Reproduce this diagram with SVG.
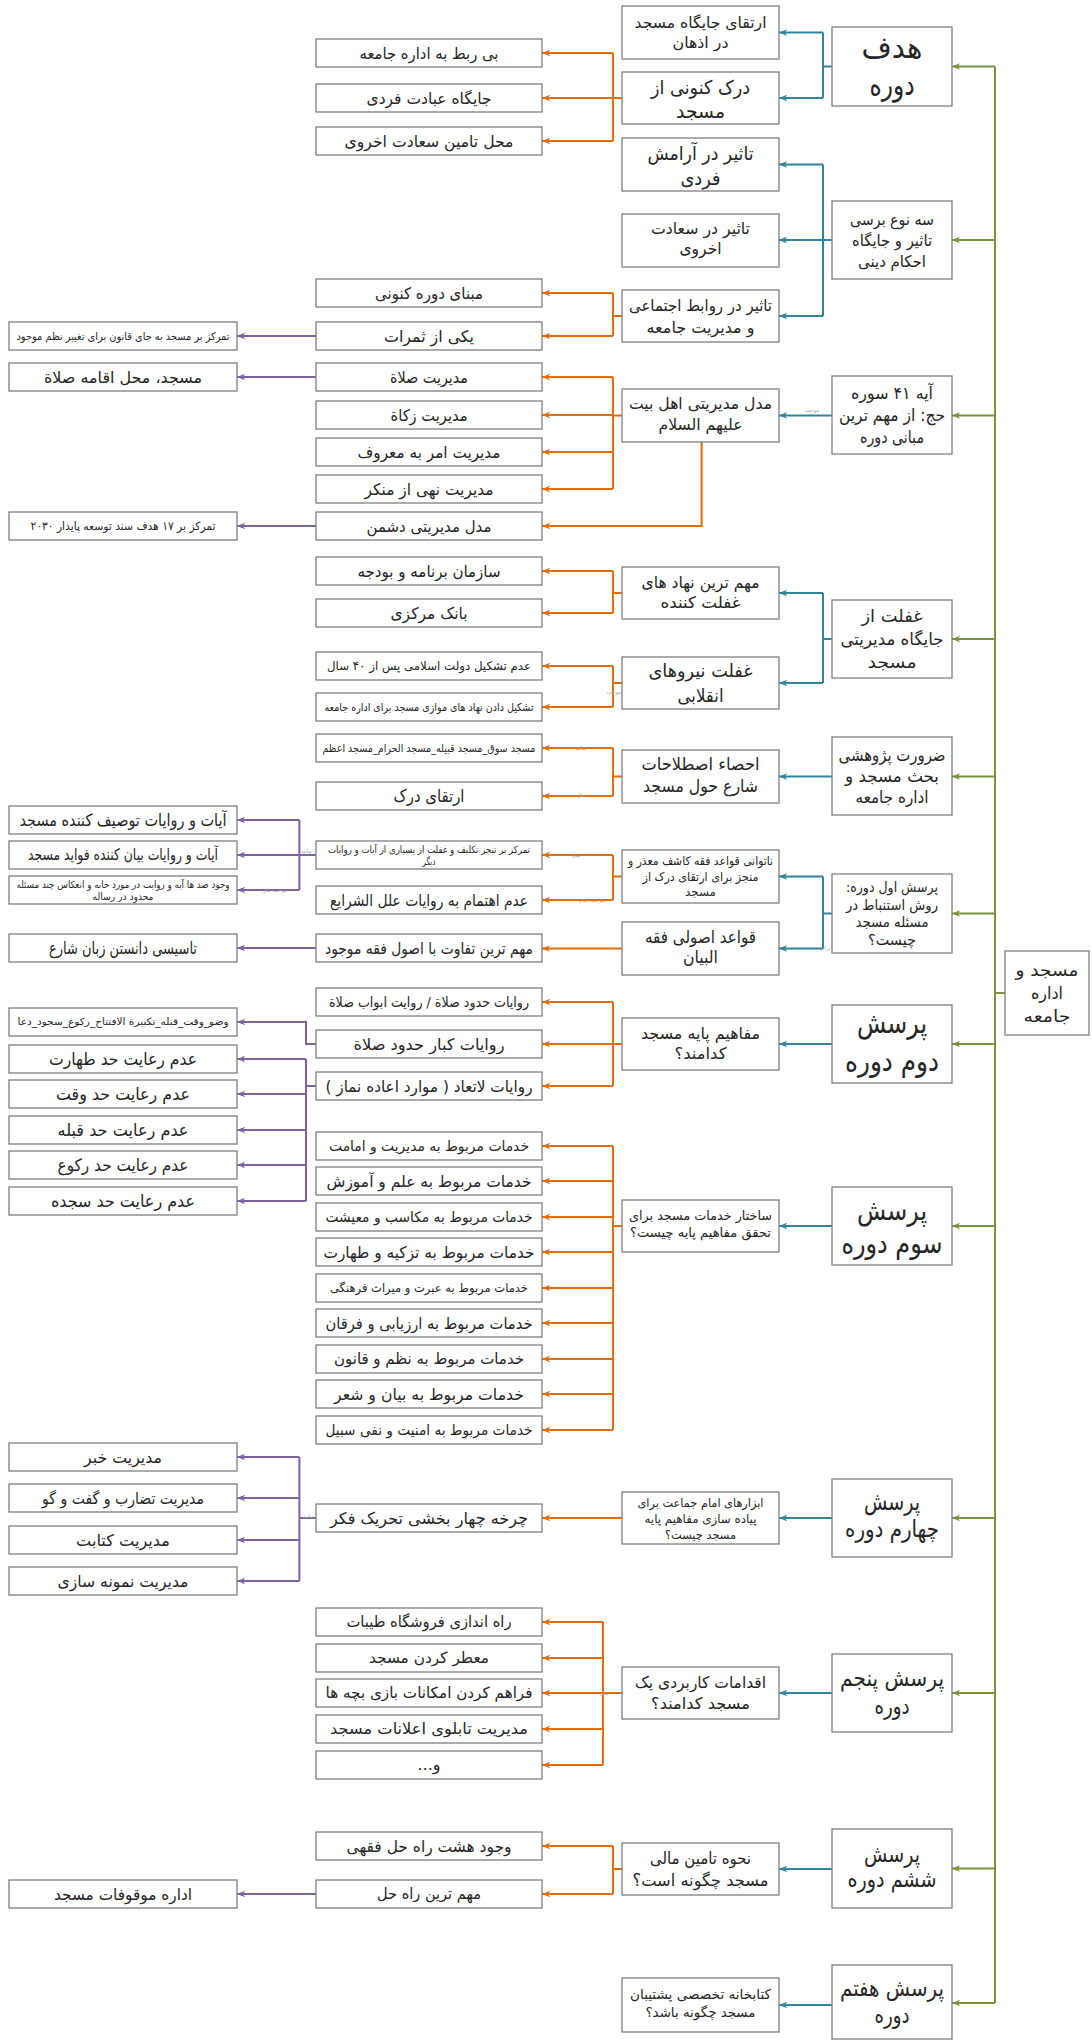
<svg xmlns="http://www.w3.org/2000/svg" width="1092" height="2040" viewBox="0 0 1092 2040">
<style>
.box{fill:#fff;stroke:#7f7f7f;stroke-width:1.3}
text{font-family:"DejaVu Sans",sans-serif;fill:#262626;text-anchor:middle;direction:rtl}
text.lbl{fill:#a6a6a6;font-size:5.5px}
.g{stroke:#77933C;stroke-width:2;fill:none}
.t{stroke:#31849B;stroke-width:2;fill:none}
.o{stroke:#E46C0A;stroke-width:2;fill:none}
.p{stroke:#7F63A1;stroke-width:2;fill:none}
</style>
<defs>
<marker id="mg" viewBox="0 0 10 10" refX="10" refY="5" markerWidth="9" markerHeight="8" markerUnits="userSpaceOnUse" orient="auto"><path d="M0,1 L10,5 L0,9 L2.5,5 z" fill="#77933C"/></marker>
<marker id="mt" viewBox="0 0 10 10" refX="10" refY="5" markerWidth="9" markerHeight="8" markerUnits="userSpaceOnUse" orient="auto"><path d="M0,1 L10,5 L0,9 L2.5,5 z" fill="#31849B"/></marker>
<marker id="mo" viewBox="0 0 10 10" refX="10" refY="5" markerWidth="9" markerHeight="8" markerUnits="userSpaceOnUse" orient="auto"><path d="M0,1 L10,5 L0,9 L2.5,5 z" fill="#E46C0A"/></marker>
<marker id="mp" viewBox="0 0 10 10" refX="10" refY="5" markerWidth="9" markerHeight="8" markerUnits="userSpaceOnUse" orient="auto"><path d="M0,1 L10,5 L0,9 L2.5,5 z" fill="#7F63A1"/></marker>
</defs>
<rect width="1092" height="2040" fill="#fff"/>
<g id="connectors">
<path class="g" d="M995,66.5 V2003 M995,993 H1005"/>
<g marker-end="url(#mg)">
<path class="g" d="M995,66.5 H952"/><path class="g" d="M995,240 H952"/><path class="g" d="M995,415.5 H952"/><path class="g" d="M995,639 H952"/><path class="g" d="M995,776.5 H952"/><path class="g" d="M995,913.5 H952"/><path class="g" d="M995,1044 H952"/><path class="g" d="M995,1226 H952"/><path class="g" d="M995,1518 H952"/><path class="g" d="M995,1693 H952"/><path class="g" d="M995,1868.5 H952"/><path class="g" d="M995,2003 H952"/>
</g>
<path class="t" d="M832,66.5 H823 M823,32.5 V98 M832,240 H823 M823,164.5 V316 M832,639 H823 M823,593 V683 M832,913.5 H823 M823,876.5 V948.5"/>
<g marker-end="url(#mt)">
<path class="t" d="M823,32.5 H779"/><path class="t" d="M823,98 H779"/><path class="t" d="M823,164.5 H779"/><path class="t" d="M823,240 H779"/><path class="t" d="M823,316 H779"/><path class="t" d="M832,415.5 H779"/><path class="t" d="M823,593 H779"/><path class="t" d="M823,683 H779"/><path class="t" d="M832,776.5 H779"/><path class="t" d="M823,876.5 H779"/><path class="t" d="M823,948.5 H779"/><path class="t" d="M832,1044 H779"/><path class="t" d="M832,1226 H779"/><path class="t" d="M832,1518 H779"/><path class="t" d="M832,1693 H779"/><path class="t" d="M832,1869 H779"/><path class="t" d="M832,2005 H779"/>
</g>
<path class="o" d="M622,98 H613 M613,53 V141 M622,316 H613 M613,293 V336 M622,415.5 H613 M613,377 V489 M622,593 H613 M613,571 V613 M622,683 H613 M613,666 V707 M622,776.5 H613 M613,748 V796 M622,876.5 H613 M613,855 V900 M622,1044 H613 M613,1002 V1086 M622,1226 H613 M613,1146 V1430 M622,1693 H603 M603,1622 V1765 M622,1869 H613 M613,1846 V1894"/>
<g marker-end="url(#mo)">
<path class="o" d="M613,53 H542"/><path class="o" d="M613,98 H542"/><path class="o" d="M613,141 H542"/>
<path class="o" d="M613,293 H542"/><path class="o" d="M613,336 H542"/>
<path class="o" d="M613,377 H542"/><path class="o" d="M613,415 H542"/><path class="o" d="M613,452 H542"/><path class="o" d="M613,489 H542"/>
<path class="o" d="M701.6,442 V526 H542"/>
<path class="o" d="M613,571 H542"/><path class="o" d="M613,613 H542"/>
<path class="o" d="M613,666 H542"/><path class="o" d="M613,707 H542"/>
<path class="o" d="M613,748 H542"/><path class="o" d="M613,796 H542"/>
<path class="o" d="M613,855 H542"/><path class="o" d="M613,900 H542"/>
<path class="o" d="M622,948.5 H542"/>
<path class="o" d="M613,1002 H542"/><path class="o" d="M613,1044 H542"/><path class="o" d="M613,1086 H542"/>
<path class="o" d="M613,1146 H542"/><path class="o" d="M613,1181 H542"/><path class="o" d="M613,1217 H542"/><path class="o" d="M613,1252 H542"/><path class="o" d="M613,1288 H542"/><path class="o" d="M613,1323 H542"/><path class="o" d="M613,1359 H542"/><path class="o" d="M613,1394 H542"/><path class="o" d="M613,1430 H542"/>
<path class="o" d="M622,1518 H542"/>
<path class="o" d="M603,1622 H542"/><path class="o" d="M603,1658 H542"/><path class="o" d="M603,1693 H542"/><path class="o" d="M603,1729 H542"/><path class="o" d="M603,1765 H542"/>
<path class="o" d="M613,1846 H542"/><path class="o" d="M613,1894 H542"/>
</g>
<path class="p" d="M316,855 H299.4 M299.4,820 V890 M316,1086 H306 M306,1059 V1201 M316,1518 H299.4 M299.4,1457 V1581"/>
<g marker-end="url(#mp)">
<path class="p" d="M316,336 H237"/><path class="p" d="M316,377 H237"/><path class="p" d="M316,526 H237"/>
<path class="p" d="M299.4,820 H237"/><path class="p" d="M299.4,855 H237"/><path class="p" d="M299.4,890 H237"/>
<path class="p" d="M316,948 H237"/>
<path class="p" d="M316,1044 H306 V1022 H237"/>
<path class="p" d="M306,1059 H237"/><path class="p" d="M306,1094 H237"/><path class="p" d="M306,1130 H237"/><path class="p" d="M306,1165 H237"/><path class="p" d="M306,1201 H237"/>
<path class="p" d="M299.4,1457 H237"/><path class="p" d="M299.4,1498 H237"/><path class="p" d="M299.4,1540 H237"/><path class="p" d="M299.4,1581 H237"/>
<path class="p" d="M316,1894 H237"/>
</g>
<g id="connector-labels">
<text class="lbl" x="812" y="412">موجب</text>
<text class="lbl" x="614" y="694">موجب</text>
<text class="lbl" x="580" y="750">مانند</text>
<text class="lbl" x="581" y="797">مثل</text>
<text class="lbl" x="576" y="857">مثل</text>
<text class="lbl" x="592" y="902">موجب عدم</text>
<text class="lbl" x="825" y="950">برابر</text>
<text class="lbl" x="306" y="853">مانند</text>
<text class="lbl" x="275" y="892">موجب نیاز</text>
<text class="lbl" x="308" y="1518">مانند</text>
<text class="lbl" x="604" y="1695">مثل</text>
</g>
</g>
<g id="root"><rect class="box" x="1005" y="951" width="84" height="84"/><text x="1047" y="976" font-size="17" textLength="63" lengthAdjust="spacingAndGlyphs">مسجد و</text><text x="1047" y="999" font-size="17" textLength="32" lengthAdjust="spacingAndGlyphs">اداره</text><text x="1047" y="1022" font-size="17" textLength="47" lengthAdjust="spacingAndGlyphs">جامعه</text></g>
<g id="a1"><rect class="box" x="832" y="27" width="120" height="79"/><text x="892" y="58" font-size="30" textLength="61" lengthAdjust="spacingAndGlyphs">هدف</text><text x="892" y="95" font-size="30" textLength="45" lengthAdjust="spacingAndGlyphs">دوره</text></g>
<g id="a2"><rect class="box" x="832" y="201" width="120" height="78"/><text x="892" y="224.6" font-size="16" textLength="84" lengthAdjust="spacingAndGlyphs">سه نوع برسی</text><text x="892" y="245.6" font-size="16" textLength="80" lengthAdjust="spacingAndGlyphs">تاثیر و جایگاه</text><text x="892" y="266.6" font-size="16" textLength="68" lengthAdjust="spacingAndGlyphs">احکام دینی</text></g>
<g id="a3"><rect class="box" x="832" y="376" width="120" height="78"/><text x="892" y="399" font-size="17" textLength="82" lengthAdjust="spacingAndGlyphs">آیه ۴۱ سوره</text><text x="892" y="421" font-size="17" textLength="106" lengthAdjust="spacingAndGlyphs">حج: از مهم ترین</text><text x="892" y="443" font-size="17" textLength="64" lengthAdjust="spacingAndGlyphs">مبانی دوره</text></g>
<g id="a4"><rect class="box" x="832" y="600" width="120" height="78"/><text x="892" y="622" font-size="17" textLength="61" lengthAdjust="spacingAndGlyphs">غفلت از</text><text x="892" y="645" font-size="17" textLength="103" lengthAdjust="spacingAndGlyphs">جایگاه مدیریتی</text><text x="892" y="668" font-size="17" textLength="49" lengthAdjust="spacingAndGlyphs">مسجد</text></g>
<g id="a5"><rect class="box" x="832" y="737" width="120" height="78"/><text x="892" y="761" font-size="17" textLength="107" lengthAdjust="spacingAndGlyphs">ضرورت پژوهشی</text><text x="892" y="782" font-size="17" textLength="94" lengthAdjust="spacingAndGlyphs">بحث مسجد و</text><text x="892" y="803" font-size="17" textLength="73" lengthAdjust="spacingAndGlyphs">اداره جامعه</text></g>
<g id="a6"><rect class="box" x="832" y="874" width="120" height="79"/><text x="892" y="892" font-size="14.5" textLength="92" lengthAdjust="spacingAndGlyphs">پرسش اول دوره:</text><text x="892" y="909.5" font-size="14.5" textLength="92" lengthAdjust="spacingAndGlyphs">روش استنباط در</text><text x="892" y="927" font-size="14.5" textLength="73" lengthAdjust="spacingAndGlyphs">مسئله مسجد</text><text x="892" y="944.5" font-size="14.5" textLength="48" lengthAdjust="spacingAndGlyphs">چیست؟</text></g>
<g id="a7"><rect class="box" x="832" y="1005" width="120" height="78"/><text x="892" y="1033" font-size="29" textLength="70" lengthAdjust="spacingAndGlyphs">پرسش</text><text x="892" y="1071" font-size="29" textLength="94" lengthAdjust="spacingAndGlyphs">دوم دوره</text></g>
<g id="a8"><rect class="box" x="832" y="1187" width="120" height="78"/><text x="892" y="1220" font-size="28" textLength="70" lengthAdjust="spacingAndGlyphs">پرسش</text><text x="892" y="1253" font-size="28" textLength="101" lengthAdjust="spacingAndGlyphs">سوم دوره</text></g>
<g id="a9"><rect class="box" x="832" y="1479" width="120" height="78"/><text x="892" y="1510" font-size="24" textLength="56" lengthAdjust="spacingAndGlyphs">پرسش</text><text x="892" y="1537" font-size="24" textLength="94" lengthAdjust="spacingAndGlyphs">چهارم دوره</text></g>
<g id="a10"><rect class="box" x="832" y="1654" width="120" height="78"/><text x="892" y="1686" font-size="23" textLength="104" lengthAdjust="spacingAndGlyphs">پرسش پنجم</text><text x="892" y="1714" font-size="23" textLength="35" lengthAdjust="spacingAndGlyphs">دوره</text></g>
<g id="a11"><rect class="box" x="832" y="1829" width="120" height="79"/><text x="892" y="1862" font-size="23" textLength="56" lengthAdjust="spacingAndGlyphs">پرسش</text><text x="892" y="1887" font-size="23" textLength="89" lengthAdjust="spacingAndGlyphs">ششم دوره</text></g>
<g id="a12"><rect class="box" x="832" y="1965" width="120" height="74"/><text x="892" y="1996" font-size="23" textLength="104" lengthAdjust="spacingAndGlyphs">پرسش هفتم</text><text x="892" y="2023" font-size="23" textLength="35" lengthAdjust="spacingAndGlyphs">دوره</text></g>
<g id="b1"><rect class="box" x="622" y="6" width="157" height="53"/><text x="700.5" y="28" font-size="15.5" textLength="132" lengthAdjust="spacingAndGlyphs">ارتقای جایگاه مسجد</text><text x="700.5" y="48" font-size="15.5" textLength="56" lengthAdjust="spacingAndGlyphs">در اذهان</text></g>
<g id="b2"><rect class="box" x="622" y="72" width="157" height="52"/><text x="700.5" y="94" font-size="19" textLength="99" lengthAdjust="spacingAndGlyphs">درک کنونی از</text><text x="700.5" y="118" font-size="19" textLength="49" lengthAdjust="spacingAndGlyphs">مسجد</text></g>
<g id="b3"><rect class="box" x="622" y="138" width="157" height="53"/><text x="700.5" y="160" font-size="19" textLength="106" lengthAdjust="spacingAndGlyphs">تاثیر در آرامش</text><text x="700.5" y="185" font-size="19" textLength="40" lengthAdjust="spacingAndGlyphs">فردی</text></g>
<g id="b4"><rect class="box" x="622" y="214" width="157" height="53"/><text x="700.5" y="234" font-size="16" textLength="99" lengthAdjust="spacingAndGlyphs">تاثیر در سعادت</text><text x="700.5" y="254" font-size="16" textLength="42" lengthAdjust="spacingAndGlyphs">اخروی</text></g>
<g id="b5"><rect class="box" x="622" y="290" width="157" height="52"/><text x="700.5" y="311" font-size="16" textLength="143" lengthAdjust="spacingAndGlyphs">تاثیر در روابط اجتماعی</text><text x="700.5" y="333" font-size="16" textLength="108" lengthAdjust="spacingAndGlyphs">و مدیریت جامعه</text></g>
<g id="b6"><rect class="box" x="622" y="389" width="157" height="53"/><text x="700.5" y="409" font-size="16" textLength="143" lengthAdjust="spacingAndGlyphs">مدل مدیریتی اهل بیت</text><text x="700.5" y="430" font-size="16" textLength="84" lengthAdjust="spacingAndGlyphs">علیهم السلام</text></g>
<g id="b7"><rect class="box" x="622" y="567" width="157" height="52"/><text x="700.5" y="588" font-size="16" textLength="118" lengthAdjust="spacingAndGlyphs">مهم ترین نهاد های</text><text x="700.5" y="608" font-size="16" textLength="80" lengthAdjust="spacingAndGlyphs">غفلت کننده</text></g>
<g id="b8"><rect class="box" x="622" y="657" width="157" height="52"/><text x="700.5" y="676.5" font-size="18" textLength="104" lengthAdjust="spacingAndGlyphs">غفلت نیروهای</text><text x="700.5" y="701.5" font-size="18" textLength="46" lengthAdjust="spacingAndGlyphs">انقلابی</text></g>
<g id="b9"><rect class="box" x="622" y="750" width="157" height="53"/><text x="700.5" y="770" font-size="17.5" textLength="118" lengthAdjust="spacingAndGlyphs">احصاء اصطلاحات</text><text x="700.5" y="792" font-size="17.5" textLength="115" lengthAdjust="spacingAndGlyphs">شارع حول مسجد</text></g>
<g id="b10"><rect class="box" x="622" y="850" width="157" height="53"/><text x="700.5" y="865" font-size="12" textLength="145" lengthAdjust="spacingAndGlyphs">ناتوانی قواعد فقه کاشف معذر و</text><text x="700.5" y="881" font-size="12" textLength="116" lengthAdjust="spacingAndGlyphs">منجز برای ارتقای درک از</text><text x="700.5" y="896" font-size="12" textLength="31" lengthAdjust="spacingAndGlyphs">مسجد</text></g>
<g id="b11"><rect class="box" x="622" y="922" width="157" height="53"/><text x="700.5" y="943" font-size="17.5" textLength="111" lengthAdjust="spacingAndGlyphs">قواعد اصولی فقه</text><text x="700.5" y="963" font-size="17.5" textLength="35" lengthAdjust="spacingAndGlyphs">البیان</text></g>
<g id="b12"><rect class="box" x="622" y="1018" width="157" height="52"/><text x="700.5" y="1039" font-size="16" textLength="119" lengthAdjust="spacingAndGlyphs">مفاهیم پایه مسجد</text><text x="700.5" y="1059" font-size="16" textLength="52" lengthAdjust="spacingAndGlyphs">کدامند؟</text></g>
<g id="b13"><rect class="box" x="622" y="1200" width="157" height="52"/><text x="700.5" y="1220" font-size="13" textLength="143" lengthAdjust="spacingAndGlyphs">ساختار خدمات مسجد برای</text><text x="700.5" y="1237" font-size="13" textLength="141" lengthAdjust="spacingAndGlyphs">تحقق مفاهیم پایه چیست؟</text></g>
<g id="b14"><rect class="box" x="622" y="1492" width="157" height="52"/><text x="700.5" y="1507" font-size="12" textLength="126" lengthAdjust="spacingAndGlyphs">ابزارهای امام جماعت برای</text><text x="700.5" y="1523" font-size="12" textLength="112" lengthAdjust="spacingAndGlyphs">پیاده سازی مفاهیم پایه</text><text x="700.5" y="1539" font-size="12" textLength="71" lengthAdjust="spacingAndGlyphs">مسجد چیست؟</text></g>
<g id="b15"><rect class="box" x="622" y="1667" width="157" height="52"/><text x="700.5" y="1688" font-size="16" textLength="131" lengthAdjust="spacingAndGlyphs">اقدامات کاربردی یک</text><text x="700.5" y="1709" font-size="16" textLength="99" lengthAdjust="spacingAndGlyphs">مسجد کدامند؟</text></g>
<g id="b16"><rect class="box" x="622" y="1843" width="157" height="52"/><text x="700.5" y="1863.5" font-size="16.5" textLength="101" lengthAdjust="spacingAndGlyphs">نحوه تامین مالی</text><text x="700.5" y="1885.5" font-size="16.5" textLength="136" lengthAdjust="spacingAndGlyphs">مسجد چگونه است؟</text></g>
<g id="b17"><rect class="box" x="622" y="1978" width="157" height="54"/><text x="700.5" y="1999" font-size="13.5" textLength="141" lengthAdjust="spacingAndGlyphs">کتابخانه تخصصی پشتیبان</text><text x="700.5" y="2017" font-size="13.5" textLength="110" lengthAdjust="spacingAndGlyphs">مسجد چگونه باشد؟</text></g>
<g id="c1"><rect class="box" x="316" y="39" width="226" height="28"/><text x="429" y="58.6" font-size="16" textLength="139" lengthAdjust="spacingAndGlyphs">بی ربط به اداره جامعه</text></g>
<g id="c2"><rect class="box" x="316" y="84" width="226" height="28"/><text x="429" y="103.6" font-size="16" textLength="125" lengthAdjust="spacingAndGlyphs">جایگاه عبادت فردی</text></g>
<g id="c3"><rect class="box" x="316" y="127" width="226" height="28"/><text x="429" y="146.6" font-size="16" textLength="169" lengthAdjust="spacingAndGlyphs">محل تامین سعادت اخروی</text></g>
<g id="c4"><rect class="box" x="316" y="279" width="226" height="28"/><text x="429" y="298.6" font-size="16" textLength="108" lengthAdjust="spacingAndGlyphs">مبنای دوره کنونی</text></g>
<g id="c5"><rect class="box" x="316" y="322" width="226" height="28"/><text x="429" y="341.6" font-size="16" textLength="90" lengthAdjust="spacingAndGlyphs">یکی از ثمرات</text></g>
<g id="c6"><rect class="box" x="316" y="363" width="226" height="28"/><text x="429" y="382.6" font-size="16" textLength="78" lengthAdjust="spacingAndGlyphs">مدیریت صلاة</text></g>
<g id="c7"><rect class="box" x="316" y="401" width="226" height="28"/><text x="429" y="420.6" font-size="16" textLength="77" lengthAdjust="spacingAndGlyphs">مدیریت زکاة</text></g>
<g id="c8"><rect class="box" x="316" y="438" width="226" height="28"/><text x="429" y="457.6" font-size="16" textLength="143" lengthAdjust="spacingAndGlyphs">مدیریت امر به معروف</text></g>
<g id="c9"><rect class="box" x="316" y="475" width="226" height="28"/><text x="429" y="494.6" font-size="16" textLength="129" lengthAdjust="spacingAndGlyphs">مدیریت نهی از منکر</text></g>
<g id="c10"><rect class="box" x="316" y="512" width="226" height="28"/><text x="429" y="531.6" font-size="16" textLength="125" lengthAdjust="spacingAndGlyphs">مدل مدیریتی دشمن</text></g>
<g id="c11"><rect class="box" x="316" y="557" width="226" height="28"/><text x="429" y="576.6" font-size="16" textLength="143" lengthAdjust="spacingAndGlyphs">سازمان برنامه و بودجه</text></g>
<g id="c12"><rect class="box" x="316" y="599" width="226" height="28"/><text x="429" y="618.6" font-size="16" textLength="77" lengthAdjust="spacingAndGlyphs">بانک مرکزی</text></g>
<g id="c13"><rect class="box" x="316" y="652" width="226" height="28"/><text x="429" y="670" font-size="12" textLength="204" lengthAdjust="spacingAndGlyphs">عدم تشکیل دولت اسلامی پس از ۴۰ سال</text></g>
<g id="c14"><rect class="box" x="316" y="693" width="226" height="28"/><text x="429" y="710.7" font-size="11" textLength="209" lengthAdjust="spacingAndGlyphs">تشکیل دادن نهاد های موازی مسجد برای اداره جامعه</text></g>
<g id="c15"><rect class="box" x="316" y="734" width="226" height="28"/><text x="429" y="751.7" font-size="11" textLength="213" lengthAdjust="spacingAndGlyphs">مسجد سوق_مسجد قبیله_مسجد الحرام_مسجد اعظم</text></g>
<g id="c16"><rect class="box" x="316" y="782" width="226" height="28"/><text x="429" y="802" font-size="17" textLength="71" lengthAdjust="spacingAndGlyphs">ارتقای درک</text></g>
<g id="c17"><rect class="box" x="316" y="841" width="226" height="28"/><text x="429" y="853" font-size="10" textLength="202" lengthAdjust="spacingAndGlyphs">تمرکز بر تنجز تکلیف و غفلت از بسیاری از آیات و روایات</text><text x="429" y="865" font-size="10" textLength="13" lengthAdjust="spacingAndGlyphs">دیگر</text></g>
<g id="c18"><rect class="box" x="316" y="886" width="226" height="28"/><text x="429" y="905.6" font-size="16" textLength="198" lengthAdjust="spacingAndGlyphs">عدم اهتمام به روایات علل الشرایع</text></g>
<g id="c19"><rect class="box" x="316" y="934" width="226" height="28"/><text x="429" y="953.6" font-size="16" textLength="208" lengthAdjust="spacingAndGlyphs">مهم ترین تفاوت با اصول فقه موجود</text></g>
<g id="c20"><rect class="box" x="316" y="988" width="226" height="28"/><text x="429" y="1006.5" font-size="14" textLength="200" lengthAdjust="spacingAndGlyphs">روایات حدود صلاة / روایت ابواب صلاة</text></g>
<g id="c21"><rect class="box" x="316" y="1030" width="226" height="28"/><text x="429" y="1049.6" font-size="16" textLength="151" lengthAdjust="spacingAndGlyphs">روایات کبار حدود صلاة</text></g>
<g id="c22"><rect class="box" x="316" y="1072" width="226" height="28"/><text x="429" y="1091.6" font-size="16" textLength="207" lengthAdjust="spacingAndGlyphs">روایات لاتعاد ( موارد اعاده نماز )</text></g>
<g id="c23"><rect class="box" x="316" y="1132" width="226" height="28"/><text x="429" y="1150.8" font-size="14" textLength="200" lengthAdjust="spacingAndGlyphs">خدمات مربوط به مدیریت و امامت</text></g>
<g id="c24"><rect class="box" x="316" y="1167" width="226" height="28"/><text x="429" y="1186.6" font-size="16" textLength="205" lengthAdjust="spacingAndGlyphs">خدمات مربوط به علم و آموزش</text></g>
<g id="c25"><rect class="box" x="316" y="1203" width="226" height="28"/><text x="429" y="1222" font-size="14.5" textLength="207" lengthAdjust="spacingAndGlyphs">خدمات مربوط به مکاسب و معیشت</text></g>
<g id="c26"><rect class="box" x="316" y="1238" width="226" height="28"/><text x="429" y="1257.6" font-size="16" textLength="211" lengthAdjust="spacingAndGlyphs">خدمات مربوط به تزکیه و طهارت</text></g>
<g id="c27"><rect class="box" x="316" y="1274" width="226" height="28"/><text x="429" y="1292" font-size="12" textLength="198" lengthAdjust="spacingAndGlyphs">خدمات مربوط به عبرت و میراث فرهنگی</text></g>
<g id="c28"><rect class="box" x="316" y="1309" width="226" height="28"/><text x="429" y="1328.6" font-size="16" textLength="207" lengthAdjust="spacingAndGlyphs">خدمات مربوط به ارزیابی و فرقان</text></g>
<g id="c29"><rect class="box" x="316" y="1345" width="226" height="28"/><text x="429" y="1364.3" font-size="15.5" textLength="190" lengthAdjust="spacingAndGlyphs">خدمات مربوط به نظم و قانون</text></g>
<g id="c30"><rect class="box" x="316" y="1380" width="226" height="28"/><text x="429" y="1399.6" font-size="16" textLength="190" lengthAdjust="spacingAndGlyphs">خدمات مربوط به بیان و شعر</text></g>
<g id="c31"><rect class="box" x="316" y="1416" width="226" height="28"/><text x="429" y="1435" font-size="14.5" textLength="207" lengthAdjust="spacingAndGlyphs">خدمات مربوط به امنیت و نفی سبیل</text></g>
<g id="c32"><rect class="box" x="316" y="1504" width="226" height="28"/><text x="429" y="1523.6" font-size="16" textLength="198" lengthAdjust="spacingAndGlyphs">چرخه چهار بخشی تحریک فکر</text></g>
<g id="c33"><rect class="box" x="316" y="1608" width="226" height="28"/><text x="429" y="1627.3" font-size="15.5" textLength="165" lengthAdjust="spacingAndGlyphs">راه اندازی فروشگاه طیبات</text></g>
<g id="c34"><rect class="box" x="316" y="1644" width="226" height="28"/><text x="429" y="1663.3" font-size="15.5" textLength="120" lengthAdjust="spacingAndGlyphs">معطر کردن مسجد</text></g>
<g id="c35"><rect class="box" x="316" y="1679" width="226" height="28"/><text x="429" y="1698.3" font-size="15.5" textLength="207" lengthAdjust="spacingAndGlyphs">فراهم کردن امکانات بازی بچه ها</text></g>
<g id="c36"><rect class="box" x="316" y="1715" width="226" height="28"/><text x="429" y="1734.3" font-size="15.5" textLength="198" lengthAdjust="spacingAndGlyphs">مدیریت تابلوی اعلانات مسجد</text></g>
<g id="c37"><rect class="box" x="316" y="1751" width="226" height="28"/><text x="429" y="1770.3" font-size="15.5" textLength="23" lengthAdjust="spacingAndGlyphs">و...</text></g>
<g id="c38"><rect class="box" x="316" y="1832" width="226" height="28"/><text x="429" y="1851.6" font-size="16" textLength="165" lengthAdjust="spacingAndGlyphs">وجود هشت راه حل فقهی</text></g>
<g id="c39"><rect class="box" x="316" y="1880" width="226" height="28"/><text x="429" y="1899.3" font-size="15.5" textLength="104" lengthAdjust="spacingAndGlyphs">مهم ترین راه حل</text></g>
<g id="d1"><rect class="box" x="9" y="322" width="228" height="28"/><text x="123" y="339.5" font-size="10.5" textLength="213" lengthAdjust="spacingAndGlyphs">تمرکز بر مسجد به جای قانون برای تغییر نظم موجود</text></g>
<g id="d2"><rect class="box" x="9" y="363" width="228" height="28"/><text x="123" y="382.6" font-size="16" textLength="158" lengthAdjust="spacingAndGlyphs">مسجد، محل اقامه صلاة</text></g>
<g id="d3"><rect class="box" x="9" y="512" width="228" height="28"/><text x="123" y="530" font-size="11.5" textLength="185" lengthAdjust="spacingAndGlyphs">تمرکز بر ۱۷ هدف سند توسعه پایدار ۲۰۳۰</text></g>
<g id="d4"><rect class="box" x="9" y="806" width="228" height="28"/><text x="123" y="826" font-size="17" textLength="207" lengthAdjust="spacingAndGlyphs">آیات و روایات توصیف کننده مسجد</text></g>
<g id="d5"><rect class="box" x="9" y="841" width="228" height="28"/><text x="123" y="860.4" font-size="16" textLength="190" lengthAdjust="spacingAndGlyphs">آیات و روایات بیان کننده فواید مسجد</text></g>
<g id="d6"><rect class="box" x="9" y="876" width="228" height="28"/><text x="123" y="888" font-size="10" textLength="213" lengthAdjust="spacingAndGlyphs">وجود صد ها آیه و روایت در مورد خانه و انعکاس چند مسئله</text><text x="123" y="900" font-size="10" textLength="61" lengthAdjust="spacingAndGlyphs">محدود در رساله</text></g>
<g id="d7"><rect class="box" x="9" y="934" width="228" height="28"/><text x="123" y="954" font-size="17" textLength="148" lengthAdjust="spacingAndGlyphs">تاسیسی دانستن زبان شارع</text></g>
<g id="d8"><rect class="box" x="9" y="1008" width="228" height="28"/><text x="123" y="1025.3" font-size="10" textLength="211" lengthAdjust="spacingAndGlyphs">وضو_وقت_قبله_تکبیرة الافتتاح_رکوع_سجود_دعا</text></g>
<g id="d9"><rect class="box" x="9" y="1045" width="228" height="28"/><text x="123" y="1065" font-size="17" textLength="148" lengthAdjust="spacingAndGlyphs">عدم رعایت حد طهارت</text></g>
<g id="d10"><rect class="box" x="9" y="1080" width="228" height="28"/><text x="123" y="1100" font-size="17" textLength="134" lengthAdjust="spacingAndGlyphs">عدم رعایت حد وقت</text></g>
<g id="d11"><rect class="box" x="9" y="1116" width="228" height="28"/><text x="123" y="1136" font-size="17" textLength="131" lengthAdjust="spacingAndGlyphs">عدم رعایت حد قبله</text></g>
<g id="d12"><rect class="box" x="9" y="1151" width="228" height="28"/><text x="123" y="1171" font-size="17" textLength="131" lengthAdjust="spacingAndGlyphs">عدم رعایت حد رکوع</text></g>
<g id="d13"><rect class="box" x="9" y="1187" width="228" height="28"/><text x="123" y="1207" font-size="17" textLength="144" lengthAdjust="spacingAndGlyphs">عدم رعایت حد سجده</text></g>
<g id="d14"><rect class="box" x="9" y="1443" width="228" height="28"/><text x="123" y="1462.6" font-size="16" textLength="78" lengthAdjust="spacingAndGlyphs">مدیریت خبر</text></g>
<g id="d15"><rect class="box" x="9" y="1484" width="228" height="28"/><text x="123" y="1503.6" font-size="16" textLength="162" lengthAdjust="spacingAndGlyphs">مدیریت تضارب و گفت و گو</text></g>
<g id="d16"><rect class="box" x="9" y="1526" width="228" height="28"/><text x="123" y="1545.6" font-size="16" textLength="94" lengthAdjust="spacingAndGlyphs">مدیریت کتابت</text></g>
<g id="d17"><rect class="box" x="9" y="1567" width="228" height="28"/><text x="123" y="1586.6" font-size="16" textLength="131" lengthAdjust="spacingAndGlyphs">مدیریت نمونه سازی</text></g>
<g id="d18"><rect class="box" x="9" y="1880" width="228" height="28"/><text x="123" y="1899.6" font-size="16" textLength="138" lengthAdjust="spacingAndGlyphs">اداره موقوفات مسجد</text></g>
</svg>
